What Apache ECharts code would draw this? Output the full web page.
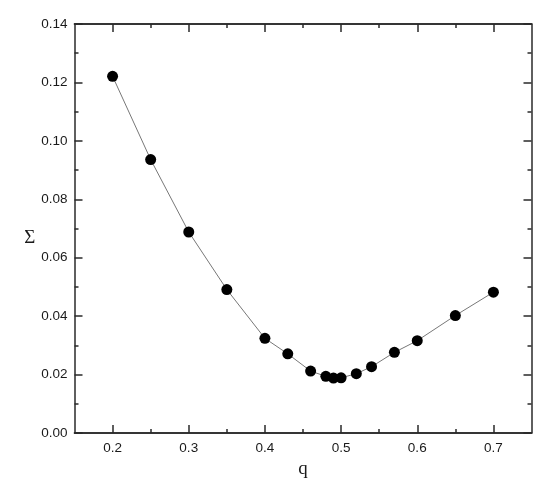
<!DOCTYPE html>
<html><head><meta charset="utf-8">
<script src="https://cdn.jsdelivr.net/npm/echarts@6/dist/echarts.min.js"></script>
<style>html,body{margin:0;padding:0;background:#fff}#c{width:560px;height:488px}</style>
</head><body><div id="c"></div>
<script>
const qValues = [0.20, 0.25, 0.30, 0.35, 0.40, 0.43, 0.46, 0.48, 0.49, 0.50, 0.52, 0.54, 0.57, 0.60, 0.65, 0.70];
const sigmaValues = [0.1221, 0.0936, 0.0688, 0.0491, 0.0324, 0.0271, 0.0212, 0.0194, 0.0188, 0.0189, 0.0203, 0.0227, 0.0276, 0.0316, 0.0402, 0.0482];
const xMajorTicks = [0.2, 0.3, 0.4, 0.5, 0.6, 0.7];
const xMinorTicks = [0.25, 0.35, 0.45, 0.55, 0.65];

const chart = echarts.init(document.getElementById('c'));
const lineC = '#2a2a2a';
const labelStyle = {color: '#1a1a1a', fontSize: 13.5, fontFamily: 'Liberation Sans, Arial, sans-serif'};
const baseX = {
  type: 'value', min: 0.15, max: 0.75, splitLine: {show: false},
  axisLine: {show: true, onZero: false, lineStyle: {color: lineC, width: 1.5}}
};
const baseY = {
  type: 'value', min: 0, max: 0.14, interval: 0.02, splitLine: {show: false},
  axisLine: {show: true, onZero: false, lineStyle: {color: lineC, width: 1.5}}
};
chart.setOption({
  animation: false,
  grid: {left: 74.5, right: 28.5, top: 24, bottom: 55, containLabel: false},
  xAxis: [
    Object.assign({}, baseX, {position: 'bottom', name: 'q', nameLocation: 'middle', nameGap: 16,
      nameTextStyle: {fontFamily: 'Liberation Serif, Times New Roman, serif', fontSize: 19, color: '#1a1a1a'},
      axisTick: {inside: true, length: 8, lineStyle: {color: lineC, width: 1.5}, customValues: xMajorTicks},
      axisLabel: Object.assign({margin: 8, customValues: xMajorTicks, formatter: v => v.toFixed(1)}, labelStyle)}),
    Object.assign({}, baseX, {position: 'top',
      axisTick: {inside: true, length: 8, lineStyle: {color: lineC, width: 1.5}, customValues: xMajorTicks},
      axisLabel: {show: false}}),
    Object.assign({}, baseX, {position: 'bottom',
      axisTick: {inside: true, length: 4, lineStyle: {color: lineC, width: 1.5}, customValues: xMinorTicks},
      axisLabel: {show: false}}),
    Object.assign({}, baseX, {position: 'top',
      axisTick: {inside: true, length: 4, lineStyle: {color: lineC, width: 1.5}, customValues: xMinorTicks},
      axisLabel: {show: false}})
  ],
  yAxis: [
    Object.assign({}, baseY, {position: 'left', name: 'Σ', nameLocation: 'middle', nameGap: 36, nameRotate: 0,
      nameTextStyle: {fontFamily: 'Liberation Serif, Times New Roman, serif', fontSize: 19, color: '#1a1a1a', verticalAlign: 'top'},
      axisTick: {inside: true, length: 8, lineStyle: {color: lineC, width: 1.5}},
      minorTick: {show: true, splitNumber: 2, length: 4, lineStyle: {color: lineC, width: 1.5}},
      axisLabel: Object.assign({margin: 7, formatter: v => v.toFixed(2)}, labelStyle)}),
    Object.assign({}, baseY, {position: 'right',
      axisTick: {inside: true, length: 8, lineStyle: {color: lineC, width: 1.5}},
      minorTick: {show: true, splitNumber: 2, length: 4, lineStyle: {color: lineC, width: 1.5}},
      axisLabel: {show: false}})
  ],
  series: [{
    type: 'line', xAxisIndex: 0, yAxisIndex: 0,
    data: qValues.map((q, i) => [q, sigmaValues[i]]),
    symbol: 'circle', symbolSize: 11,
    lineStyle: {color: '#777', width: 1},
    itemStyle: {color: '#000'}
  }]
});
</script></body></html>
